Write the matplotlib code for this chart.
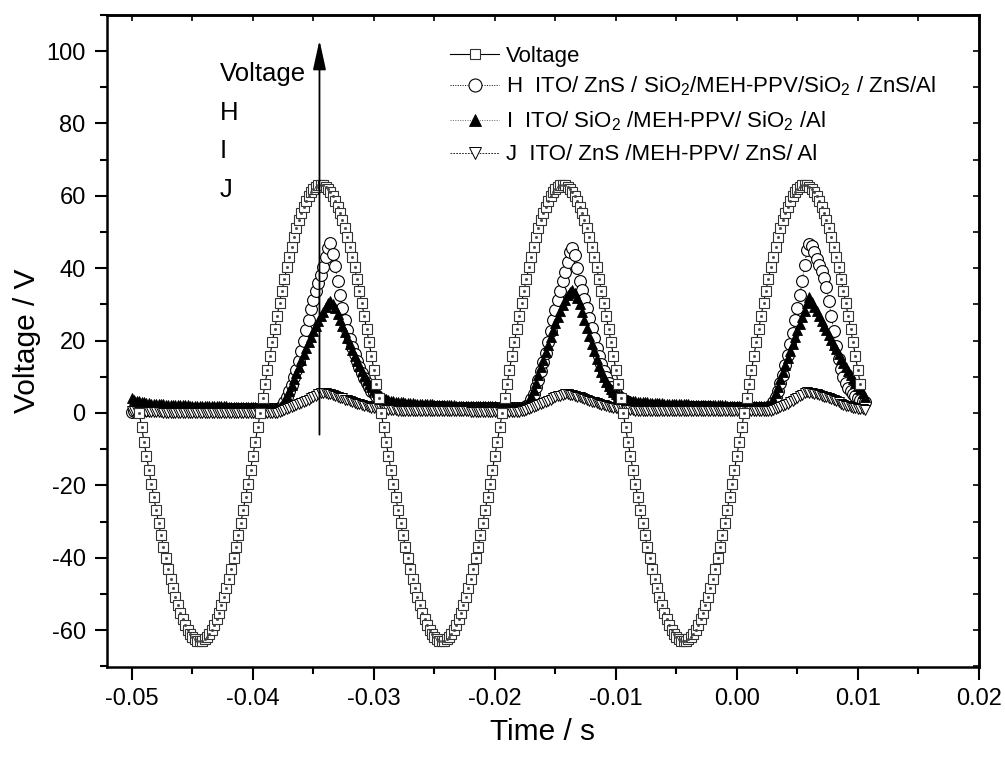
import numpy as np
import matplotlib
matplotlib.use("Agg")
import matplotlib.pyplot as plt
from matplotlib.ticker import MultipleLocator, FormatStrFormatter

plt.rcParams['font.family'] = ['Liberation Sans', 'DejaVu Sans']
plt.rcParams['mathtext.default'] = 'regular'
plt.rcParams['axes.unicode_minus'] = False

# ---------------- data ----------------
time_start = -0.05        # s, first sample of the device traces
voltage_start = -0.0494   # s, first sample of the voltage trace
time_step = 0.0002        # s, sampling interval

voltage = [
    0.0, -4.0, -7.9, -11.8, -15.7, -19.5, -23.2, -26.8, -30.4, -33.8,
    -37.0, -40.2, -43.1, -45.9, -48.5, -51.0, -53.2, -55.2, -57.0, -58.6,
    -59.9, -61.0, -61.9, -62.5, -62.9, -63.0, -62.9, -62.5, -61.9, -61.0,
    -59.9, -58.6, -57.0, -55.2, -53.2, -51.0, -48.5, -45.9, -43.1, -40.2,
    -37.0, -33.8, -30.4, -26.8, -23.2, -19.5, -15.7, -11.8, -7.9, -4.0,
    0.0, 4.0, 7.9, 11.8, 15.7, 19.5, 23.2, 26.8, 30.4, 33.8,
    37.0, 40.2, 43.1, 45.9, 48.5, 51.0, 53.2, 55.2, 57.0, 58.6,
    59.9, 61.0, 61.9, 62.5, 62.9, 63.0, 62.9, 62.5, 61.9, 61.0,
    59.9, 58.6, 57.0, 55.2, 53.2, 51.0, 48.5, 45.9, 43.1, 40.2,
    37.0, 33.8, 30.4, 26.8, 23.2, 19.5, 15.7, 11.8, 7.9, 4.0,
    0.0, -4.0, -7.9, -11.8, -15.7, -19.5, -23.2, -26.8, -30.4, -33.8,
    -37.0, -40.2, -43.1, -45.9, -48.5, -51.0, -53.2, -55.2, -57.0, -58.6,
    -59.9, -61.0, -61.9, -62.5, -62.9, -63.0, -62.9, -62.5, -61.9, -61.0,
    -59.9, -58.6, -57.0, -55.2, -53.2, -51.0, -48.5, -45.9, -43.1, -40.2,
    -37.0, -33.8, -30.4, -26.8, -23.2, -19.5, -15.7, -11.8, -7.9, -4.0,
    0.0, 4.0, 7.9, 11.8, 15.7, 19.5, 23.2, 26.8, 30.4, 33.8,
    37.0, 40.2, 43.1, 45.9, 48.5, 51.0, 53.2, 55.2, 57.0, 58.6,
    59.9, 61.0, 61.9, 62.5, 62.9, 63.0, 62.9, 62.5, 61.9, 61.0,
    59.9, 58.6, 57.0, 55.2, 53.2, 51.0, 48.5, 45.9, 43.1, 40.2,
    37.0, 33.8, 30.4, 26.8, 23.2, 19.5, 15.7, 11.8, 7.9, 4.0,
    0.0, -4.0, -7.9, -11.8, -15.7, -19.5, -23.2, -26.8, -30.4, -33.8,
    -37.0, -40.2, -43.1, -45.9, -48.5, -51.0, -53.2, -55.2, -57.0, -58.6,
    -59.9, -61.0, -61.9, -62.5, -62.9, -63.0, -62.9, -62.5, -61.9, -61.0,
    -59.9, -58.6, -57.0, -55.2, -53.2, -51.0, -48.5, -45.9, -43.1, -40.2,
    -37.0, -33.8, -30.4, -26.8, -23.2, -19.5, -15.7, -11.8, -7.9, -4.0,
    0.0, 4.0, 7.9, 11.8, 15.7, 19.5, 23.2, 26.8, 30.4, 33.8,
    37.0, 40.2, 43.1, 45.9, 48.5, 51.0, 53.2, 55.2, 57.0, 58.6,
    59.9, 61.0, 61.9, 62.5, 62.9, 63.0, 62.9, 62.5, 61.9, 61.0,
    59.9, 58.6, 57.0, 55.2, 53.2, 51.0, 48.5, 45.9, 43.1, 40.2,
    37.0, 33.8, 30.4, 26.8, 23.2, 19.5, 15.7, 11.8, 7.9,
]

device_H = [
    0.3, 0.4, 0.5, 0.6, 0.7, 0.8, 0.9, 1.0, 1.0, 1.1,
    1.1, 1.1, 1.2, 1.2, 1.2, 1.2, 1.2, 1.2, 1.2, 1.2,
    1.2, 1.2, 1.2, 1.2, 1.1, 1.1, 1.1, 1.1, 1.1, 1.1,
    1.1, 1.1, 1.1, 1.1, 1.1, 1.1, 1.1, 1.1, 1.1, 1.1,
    1.0, 1.0, 1.0, 1.0, 1.0, 1.0, 1.0, 1.0, 1.0, 1.0,
    1.0, 1.0, 1.0, 1.0, 1.0, 1.0, 1.0, 1.0, 1.0, 1.0,
    1.0, 1.3, 2.0, 3.0, 4.4, 6.0, 7.8, 9.8, 12.0, 14.4,
    17.0, 19.8, 22.8, 25.8, 28.6, 31.2, 33.6, 35.8, 38.0, 40.4,
    43.0, 45.5, 47.0, 44.0, 40.5, 36.5, 32.5, 29.0, 25.8, 23.0,
    20.5, 18.2, 16.2, 14.3, 12.6, 11.0, 9.6, 8.3, 7.2, 6.2,
    5.4, 4.7, 4.1, 3.6, 3.2, 2.8, 2.5, 2.3, 2.1, 2.0,
    1.9, 1.9, 1.8, 1.8, 1.8, 1.7, 1.7, 1.7, 1.7, 1.6,
    1.6, 1.6, 1.6, 1.6, 1.6, 1.6, 1.6, 1.6, 1.6, 1.6,
    1.5, 1.5, 1.5, 1.5, 1.5, 1.5, 1.5, 1.5, 1.5, 1.5,
    1.5, 1.5, 1.5, 1.5, 1.5, 1.5, 1.5, 1.5, 1.5, 1.5,
    1.5, 1.5, 1.5, 1.5, 1.5, 1.5, 1.5, 1.5, 1.5, 1.5,
    1.5, 1.5, 1.5, 1.8, 2.6, 3.8, 5.3, 7.1, 9.2, 11.5,
    14.0, 16.7, 19.6, 22.6, 25.6, 28.5, 31.2, 33.7, 36.4, 39.0,
    41.8, 44.4, 45.5, 43.6, 40.0, 36.4, 34.0, 31.5, 29.0, 26.2,
    23.4, 20.6, 18.0, 15.6, 13.4, 11.5, 9.8, 8.4, 7.2, 6.2,
    5.4, 4.7, 4.1, 3.6, 3.2, 2.9, 2.6, 2.4, 2.2, 2.1,
    2.0, 1.9, 1.9, 1.8, 1.8, 1.8, 1.7, 1.7, 1.7, 1.7,
    1.6, 1.6, 1.6, 1.6, 1.6, 1.6, 1.6, 1.6, 1.6, 1.6,
    1.6, 1.6, 1.6, 1.6, 1.6, 1.6, 1.6, 1.6, 1.6, 1.6,
    1.5, 1.5, 1.5, 1.5, 1.5, 1.5, 1.5, 1.5, 1.5, 1.5,
    1.5, 1.5, 1.5, 1.5, 1.5, 1.5, 1.5, 1.5, 1.5, 1.5,
    1.5, 1.5, 1.5, 1.5, 2.0, 3.0, 4.4, 6.2, 8.3, 10.6,
    13.2, 16.0, 19.0, 22.2, 25.6, 29.0, 32.5, 36.5, 41.0, 45.0,
    46.6, 46.0, 44.5, 42.6, 40.8, 39.2, 37.2, 34.8, 31.0, 26.8,
    22.6, 18.5, 15.0, 12.2, 10.0, 8.3, 7.0, 6.0, 5.2, 4.6,
    4.1, 3.7, 3.3, 3.0,
]

device_I = [
    4.0, 3.7, 3.4, 3.2, 3.0, 2.9, 2.8, 2.7, 2.6, 2.5,
    2.5, 2.4, 2.4, 2.4, 2.3, 2.3, 2.3, 2.2, 2.2, 2.2,
    2.1, 2.1, 2.1, 2.1, 2.0, 2.0, 2.0, 2.0, 2.0, 1.9,
    1.9, 1.9, 1.9, 1.9, 1.8, 1.8, 1.8, 1.8, 1.8, 1.8,
    1.7, 1.7, 1.7, 1.7, 1.7, 1.7, 1.6, 1.6, 1.6, 1.6,
    1.6, 1.6, 1.5, 1.5, 1.5, 1.5, 1.5, 1.5, 1.5, 1.5,
    1.5, 1.6, 2.2, 3.2, 4.6, 6.0, 7.6, 9.3, 11.0, 12.8,
    14.6, 16.3, 18.0, 19.6, 21.1, 22.6, 24.0, 25.4, 26.7, 28.0,
    29.2, 30.3, 31.0, 30.2, 28.9, 27.4, 25.8, 24.1, 22.4, 20.7,
    19.0, 17.4, 15.8, 14.3, 12.9, 11.5, 10.3, 9.1, 8.1, 7.2,
    6.4, 5.7, 5.1, 4.6, 4.2, 3.9, 3.6, 3.4, 3.2, 3.1,
    3.0, 2.9, 2.9, 2.8, 2.8, 2.7, 2.7, 2.6, 2.6, 2.5,
    2.5, 2.5, 2.4, 2.4, 2.4, 2.3, 2.3, 2.3, 2.2, 2.2,
    2.2, 2.1, 2.1, 2.1, 2.0, 2.0, 2.0, 2.0, 1.9, 1.9,
    1.9, 1.9, 1.9, 1.8, 1.8, 1.8, 1.8, 1.8, 1.8, 1.8,
    1.8, 1.7, 1.7, 1.7, 1.7, 1.7, 1.7, 1.7, 1.7, 1.7,
    1.7, 1.7, 1.8, 2.2, 3.2, 4.6, 6.4, 8.4, 10.5, 12.6,
    14.7, 16.8, 18.9, 20.9, 22.9, 24.8, 26.6, 28.3, 29.9, 31.3,
    32.5, 33.4, 34.0, 33.2, 31.8, 30.0, 28.0, 25.8, 23.6, 21.3,
    19.1, 17.0, 15.0, 13.1, 11.4, 9.9, 8.6, 7.5, 6.6, 5.9,
    5.3, 4.8, 4.4, 4.1, 3.8, 3.6, 3.4, 3.3, 3.2, 3.1,
    3.0, 3.0, 2.9, 2.9, 2.8, 2.8, 2.8, 2.7, 2.7, 2.7,
    2.6, 2.6, 2.6, 2.5, 2.5, 2.5, 2.5, 2.4, 2.4, 2.4,
    2.4, 2.3, 2.3, 2.3, 2.3, 2.2, 2.2, 2.2, 2.2, 2.2,
    2.1, 2.1, 2.1, 2.1, 2.1, 2.1, 2.0, 2.0, 2.0, 2.0,
    2.0, 2.0, 2.0, 2.0, 2.0, 2.0, 2.0, 2.0, 2.0, 2.0,
    2.0, 2.0, 2.0, 2.1, 2.6, 3.8, 5.4, 7.3, 9.3, 11.3,
    13.3, 15.3, 17.2, 19.1, 21.0, 22.8, 24.6, 26.4, 28.2, 30.3,
    32.0, 30.7, 29.4, 28.1, 26.8, 25.4, 24.1, 22.8, 21.5, 20.2,
    18.9, 17.6, 16.3, 15.0, 13.8, 12.6, 11.5, 10.4, 9.4, 8.4,
    7.5, 6.5, 5.5, 4.5,
]

device_J = [
    0.5, 0.4, 0.4, 0.3, 0.3, 0.3, 0.3, 0.2, 0.2, 0.2,
    0.2, 0.2, 0.2, 0.1, 0.1, 0.1, 0.1, 0.1, 0.1, 0.1,
    0.1, 0.0, 0.0, 0.0, 0.0, 0.0, 0.0, -0.1, -0.1, -0.1,
    -0.1, -0.1, -0.1, -0.1, -0.1, -0.1, -0.1, -0.1, -0.1, -0.1,
    -0.1, -0.1, -0.1, -0.1, -0.1, -0.1, 0.0, 0.0, 0.0, 0.0,
    0.0, 0.0, 0.0, 0.0, 0.0, 0.1, 0.1, 0.1, 0.1, 0.1,
    0.1, 0.2, 0.4, 0.7, 1.0, 1.3, 1.6, 1.9, 2.2, 2.5,
    2.8, 3.1, 3.4, 3.7, 4.0, 4.4, 4.8, 5.2, 5.5, 5.6,
    5.5, 5.3, 5.1, 4.9, 4.7, 4.4, 4.2, 4.0, 3.7, 3.5,
    3.3, 3.0, 2.8, 2.6, 2.4, 2.2, 2.0, 1.8, 1.7, 1.5,
    1.4, 1.3, 1.2, 1.1, 1.0, 0.9, 0.8, 0.8, 0.7, 0.7,
    0.6, 0.6, 0.6, 0.5, 0.5, 0.5, 0.5, 0.5, 0.4, 0.4,
    0.4, 0.4, 0.4, 0.4, 0.4, 0.4, 0.4, 0.4, 0.4, 0.4,
    0.4, 0.4, 0.4, 0.4, 0.4, 0.4, 0.4, 0.4, 0.4, 0.4,
    0.3, 0.3, 0.3, 0.3, 0.3, 0.3, 0.3, 0.3, 0.3, 0.3,
    0.3, 0.3, 0.3, 0.3, 0.3, 0.3, 0.3, 0.3, 0.3, 0.3,
    0.3, 0.4, 0.5, 0.7, 1.0, 1.3, 1.6, 1.9, 2.2, 2.5,
    2.8, 3.1, 3.4, 3.7, 4.0, 4.3, 4.6, 4.8, 5.0, 5.1,
    5.1, 5.0, 4.9, 4.7, 4.5, 4.3, 4.1, 3.8, 3.5, 3.3,
    3.1, 2.9, 2.7, 2.5, 2.3, 2.1, 1.9, 1.7, 1.6, 1.4,
    1.3, 1.2, 1.1, 1.0, 0.9, 0.8, 0.7, 0.7, 0.6, 0.6,
    0.6, 0.6, 0.6, 0.6, 0.6, 0.6, 0.6, 0.6, 0.6, 0.6,
    0.5, 0.5, 0.5, 0.5, 0.5, 0.5, 0.5, 0.5, 0.5, 0.5,
    0.5, 0.5, 0.5, 0.5, 0.5, 0.5, 0.5, 0.5, 0.5, 0.5,
    0.4, 0.4, 0.4, 0.4, 0.4, 0.4, 0.4, 0.4, 0.4, 0.4,
    0.4, 0.4, 0.4, 0.4, 0.4, 0.4, 0.4, 0.4, 0.4, 0.4,
    0.4, 0.4, 0.4, 0.4, 0.5, 0.7, 1.0, 1.3, 1.6, 1.9,
    2.2, 2.6, 3.0, 3.4, 3.8, 4.2, 4.6, 5.0, 5.4, 5.7,
    5.6, 5.5, 5.3, 5.1, 4.9, 4.7, 4.5, 4.3, 4.1, 3.8,
    3.5, 3.2, 2.9, 2.6, 2.3, 2.0, 1.8, 1.6, 1.4, 1.3,
    1.2, 1.1, 1.0, 0.9,
]

legend_labels = [
    "Voltage",
    "H  ITO/ ZnS / SiO$_2$/MEH-PPV/SiO$_2$ / ZnS/Al",
    "I  ITO/ SiO$_2$ /MEH-PPV/ SiO$_2$ /Al",
    "J  ITO/ ZnS /MEH-PPV/ ZnS/ Al",
]
annotation_text = "Voltage\nH\nI\nJ"
arrow_time = -0.0345
arrow_from, arrow_to = -6, 103

x_ticks = [-0.05, -0.04, -0.03, -0.02, -0.01, 0.00, 0.01, 0.02]
y_ticks = [-60, -40, -20, 0, 20, 40, 60, 80, 100]
x_limits = (-0.0521, 0.02)
y_limits = (-70.2, 110)

# ---------------- figure ----------------
t_volt = voltage_start + time_step * np.arange(len(voltage))
t_H = time_start + time_step * np.arange(len(device_H))
t_I = time_start + time_step * np.arange(len(device_I))
t_J = time_start + time_step * np.arange(len(device_J))

fig = plt.figure(figsize=(10.05, 7.6), dpi=100)
ax = fig.add_axes([0.106, 0.1224, 0.868, 0.858])

lH, = ax.plot(t_H, device_H, ls=(0, (1, 1.5)), lw=0.7, color='black',
              marker='o', ms=8.5, mfc='white', mec='black', mew=0.8, zorder=2)
lI, = ax.plot(t_I, device_I, ls=(0, (1, 1.5)), lw=0.7, color='#666666',
              marker='^', ms=7.5, mfc='black', mec='black', mew=0.6, zorder=3)
lJ, = ax.plot(t_J, device_J, ls=(0, (2, 1.5)), lw=0.6, color='black',
              marker='v', ms=7.5, mfc='white', mec='black', mew=0.7, zorder=4)
lV, = ax.plot(t_volt, voltage, ls='-', lw=0.8, color='black',
              marker='s', ms=7.0, mfc='white', mec='#333333', mew=0.8, zorder=5)
ax.plot(t_volt, voltage, ls='none', marker='s', ms=1.0, color='#444444', zorder=6)

common = dict(loc='upper left', frameon=False, fontsize=16, handlelength=2.2,
              handletextpad=0.3, borderpad=0, borderaxespad=0, markerscale=1.1)
leg1 = ax.legend([lV], legend_labels[:1], bbox_to_anchor=(0.394, 0.952), **common)
ax.add_artist(leg1)
leg2 = ax.legend([lH, lI, lJ], legend_labels[1:], bbox_to_anchor=(0.394, 0.908),
                 labelspacing=0.5, **common)

ax.text(0.130, 0.928, annotation_text, transform=ax.transAxes, fontsize=18.5,
        ha='left', va='top', linespacing=1.78)
ax.annotate('', xy=(arrow_time, arrow_to), xytext=(arrow_time, arrow_from),
            arrowprops=dict(arrowstyle='-|>,head_width=0.22,head_length=1.0',
                            lw=1.3, color='black', mutation_scale=18,
                            shrinkA=0, shrinkB=0), zorder=7)

ax.set_xlim(*x_limits)
ax.set_ylim(*y_limits)
ax.set_xticks(x_ticks)
ax.set_yticks(y_ticks)
ax.xaxis.set_major_formatter(FormatStrFormatter('%.2f'))
ax.xaxis.set_minor_locator(MultipleLocator(0.005))
ax.yaxis.set_minor_locator(MultipleLocator(10))
ax.tick_params(which='major', direction='out', length=9, width=1.5, labelsize=17, pad=6)
ax.tick_params(which='minor', direction='out', length=5, width=1.5)
for sp in ax.spines.values():
    sp.set_linewidth(1.8)

secx = ax.secondary_xaxis('top')
secx.set_xticks(x_ticks)
secx.xaxis.set_minor_locator(MultipleLocator(0.005))
secx.tick_params(which='both', direction='in', length=4, width=1.2, labeltop=False)
secx.spines['top'].set_linewidth(1.8)
secy = ax.secondary_yaxis('right')
secy.set_yticks(y_ticks)
secy.yaxis.set_minor_locator(MultipleLocator(10))
secy.tick_params(which='both', direction='in', length=4, width=1.2, labelright=False)
secy.spines['right'].set_linewidth(1.8)

ax.set_xlabel('Time / s', fontsize=21.5, labelpad=6)
ax.set_ylabel('Voltage / V', fontsize=21.5, labelpad=4)

fig.savefig('out.png', dpi=100)
